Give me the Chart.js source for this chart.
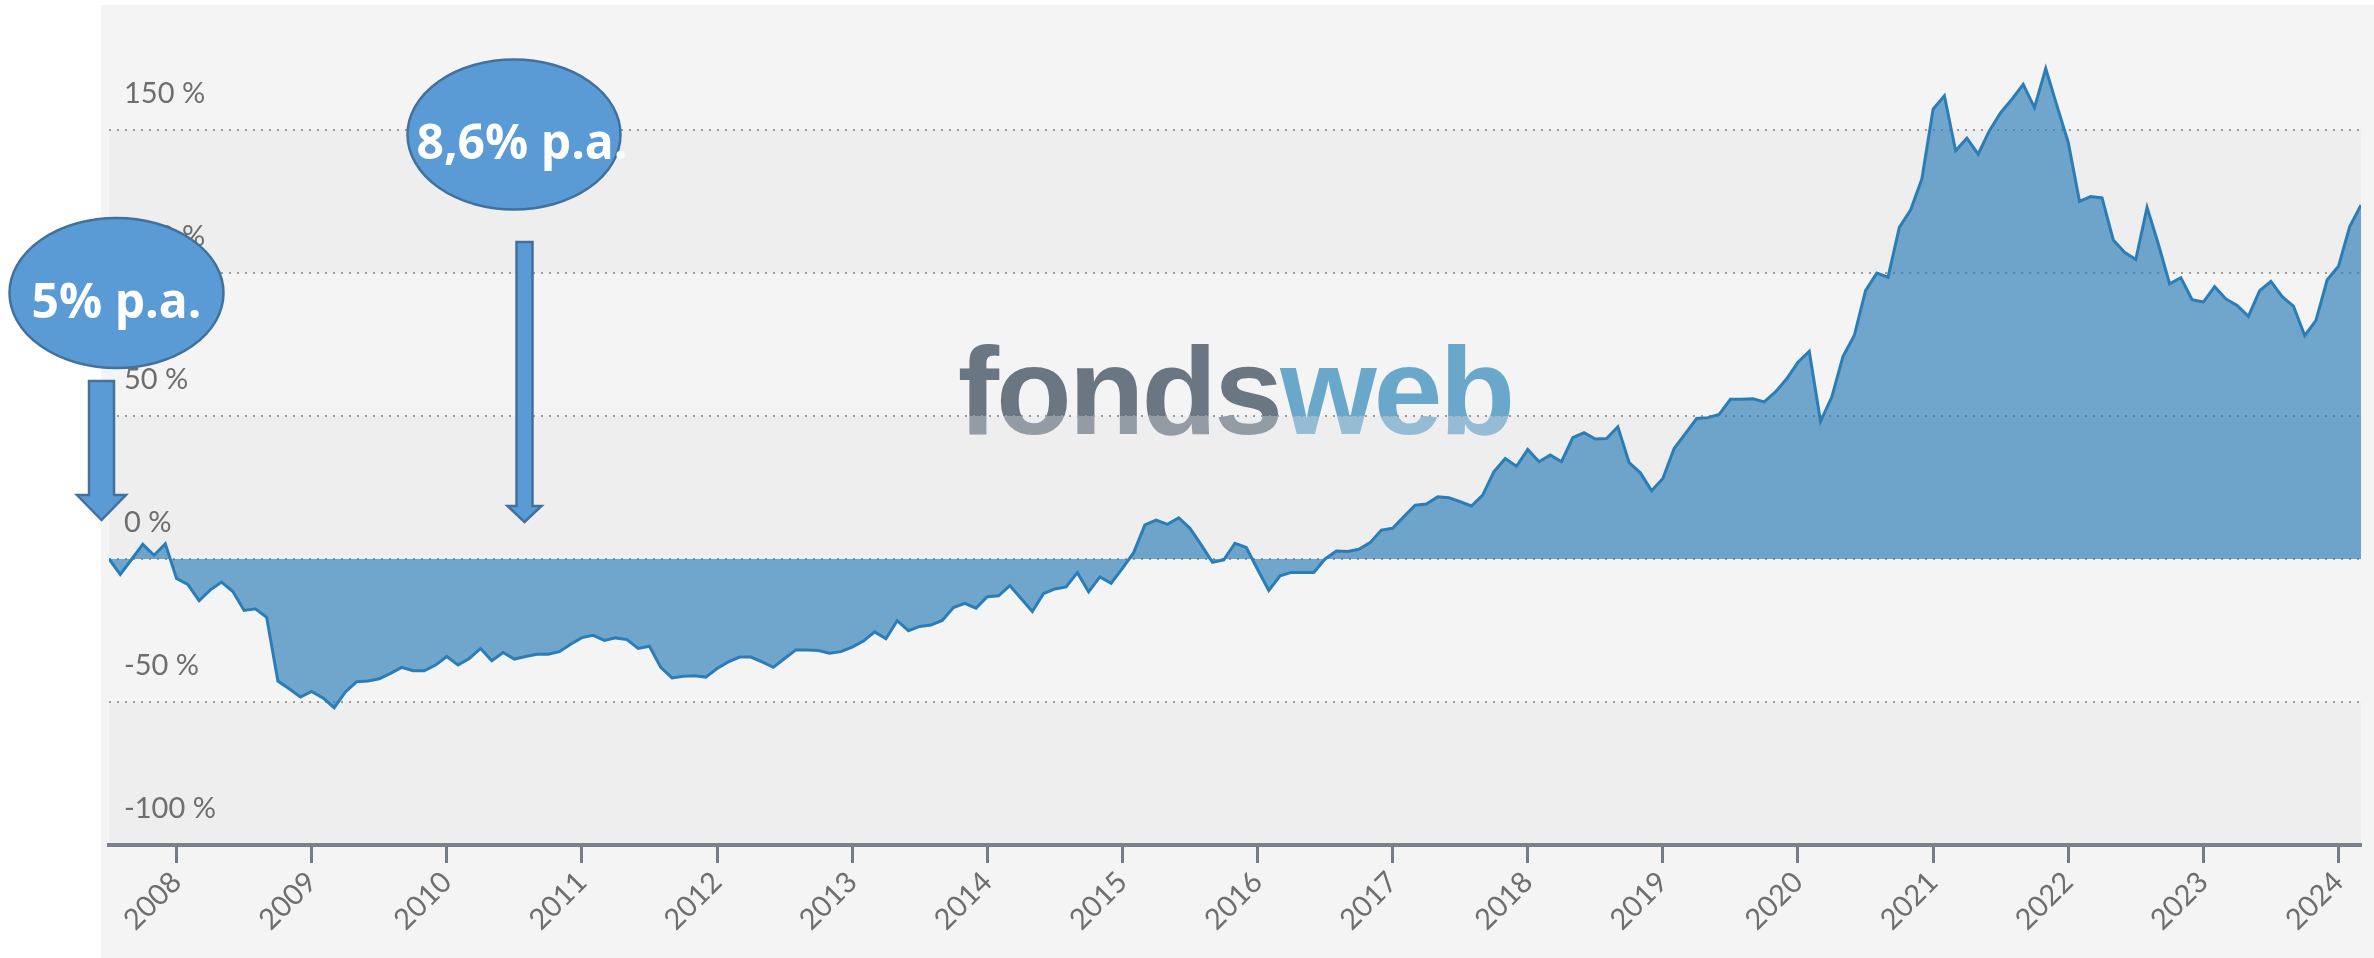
<!DOCTYPE html>
<html>
<head>
<meta charset="utf-8">
<title>Fondsweb Wertentwicklung</title>
<script src="https://cdn.jsdelivr.net/npm/chart.js@4.4.1/dist/chart.umd.min.js"></script>
<style>
  html, body { margin: 0; padding: 0; background: #ffffff; }
  canvas { display: block; }
</style>
</head>
<body>
<canvas id="perf" width="2374" height="958"></canvas>
<script>
// monthly performance in %, first point July 2007, last point March 2024
const startYear = 2007;
const startMonth = 7;
const performance = [
  0, -5.4, -0.2, 5.1, 1.3, 5.3, -6.8, -8.9, -14.6, -10.8, -8.1, -11.4,
  -18.0, -17.4, -20.4, -42.7, -45.4, -48.3, -46.3, -48.6, -52.0, -46.5, -42.9, -42.7,
  -41.9, -40.0, -37.9, -39.1, -39.1, -37.1, -34.1, -37.1, -34.8, -31.3, -35.6, -32.7,
  -35.0, -34.1, -33.3, -33.3, -32.4, -29.8, -27.5, -26.7, -28.5, -27.6, -28.2, -31.3,
  -30.5, -37.9, -41.6, -41.0, -40.8, -41.3, -38.3, -36.0, -34.3, -34.3, -36.0, -37.9,
  -34.8, -31.8, -31.8, -32.0, -33.0, -32.4, -30.8, -28.7, -25.5, -27.9, -21.6, -25.1,
  -23.6, -23.1, -21.5, -17.0, -15.5, -17.2, -13.2, -12.9, -9.3, -13.8, -18.4, -12.1,
  -10.5, -9.8, -4.8, -11.5, -6.3, -8.5, -3.3, 2.2, 11.9, 13.6, 12.1, 14.4,
  10.7, 4.9, -1.2, -0.3, 5.5, 4.0, -3.6, -11.0, -5.9, -4.7, -4.7, -4.7,
  0, 2.8, 2.6, 3.4, 5.7, 10.1, 10.7, 14.8, 18.8, 19.2, 21.7, 21.4,
  20.0, 18.5, 22.3, 30.5, 35.1, 32.4, 38.3, 34.0, 36.3, 34.0, 42.4, 44.1,
  41.9, 42.1, 46.2, 33.7, 30.1, 23.8, 28.1, 38.6, 43.8, 49.1, 49.4, 50.5,
  55.8, 55.8, 56.0, 54.9, 58.4, 63.0, 68.8, 72.6, 48.1, 56.6, 70.8, 78.1,
  93.8, 99.9, 98.5, 115.9, 122.0, 132.8, 157.2, 161.9, 142.7, 147.1, 141.5, 149.7,
  156.0, 160.7, 165.9, 157.8, 171.4, 158.4, 145.6, 125.0, 126.7, 126.2, 111.5, 107.2,
  104.7, 122.9, 110.1, 96.2, 98.3, 90.6, 89.8, 95.2, 90.9, 88.6, 84.8, 93.8,
  97.0, 91.7, 88.4, 78.1, 83.4, 97.6, 102.3, 116.2, 123.7
];
const yearTicks = [2008, 2009, 2010, 2011, 2012, 2013, 2014, 2015, 2016, 2017, 2018, 2019, 2020, 2021, 2022, 2023, 2024];
const percentTicks = [-100, -50, 0, 50, 100, 150];
const shadedBands = [[100, 150], [0, 50], [-100, -50]];
const watermarkParts = ['fonds', 'web'];
const calloutLabels = ['5% p.a.', '8,6% p.a.'];

const points = performance.map((v, i) => ({ x: startYear + (startMonth - 1 + i) / 12, y: v }));

const labelFont = { family: 'Lato', size: 29 };
const labelColor = '#6e6e6e';

// panel, alternating bands and the watermark, all under the grid
const backdrop = {
  id: 'backdrop',
  beforeDraw(chart) {
    const { ctx, chartArea: a, scales: { y } } = chart;
    ctx.save();
    ctx.fillStyle = '#f4f4f4';
    ctx.fillRect(101, 5, chart.width - 101, chart.height - 5);
    ctx.fillStyle = '#eeeeee';
    shadedBands.forEach(([lo, hi]) => {
      const top = y.getPixelForValue(hi), bottom = y.getPixelForValue(lo);
      ctx.fillRect(a.left, top, a.right - a.left, bottom - top);
    });

    ctx.font = 'bold 124px "Liberation Sans", Arial, sans-serif';
    ctx.letterSpacing = '-3px';
    ctx.textBaseline = 'alphabetic';
    ctx.textAlign = 'left';
    const w1 = ctx.measureText(watermarkParts[0]).width;
    const w2 = ctx.measureText(watermarkParts[1]).width;
    const left = (a.left + a.right) / 2 - (w1 + w2) / 2;
    const split = y.getPixelForValue(50);
    const base = split + 18;
    const drawMark = (c1, c2) => {
      ctx.fillStyle = c1;
      ctx.fillText(watermarkParts[0], left, base);
      ctx.fillStyle = c2;
      ctx.fillText(watermarkParts[1], left + w1, base);
    };
    ctx.save();
    ctx.beginPath();
    ctx.rect(0, 0, chart.width, split);
    ctx.clip();
    drawMark('#6b7683', '#6aa8cb');
    ctx.restore();
    ctx.save();
    ctx.beginPath();
    ctx.rect(0, split, chart.width, chart.height - split);
    ctx.clip();
    drawMark('#939ba5', '#95bcd4');
    ctx.restore();
    ctx.restore();
  }
};

function drawArrow(ctx, cx, top, shaftW, headTop, headW, tip) {
  ctx.beginPath();
  ctx.moveTo(cx - shaftW / 2, top);
  ctx.lineTo(cx + shaftW / 2, top);
  ctx.lineTo(cx + shaftW / 2, headTop);
  ctx.lineTo(cx + headW / 2, headTop);
  ctx.lineTo(cx, tip);
  ctx.lineTo(cx - headW / 2, headTop);
  ctx.lineTo(cx - shaftW / 2, headTop);
  ctx.closePath();
  ctx.fill();
  ctx.stroke();
}

function drawBubble(ctx, cx, cy, rx, ry, text, tx, baseline) {
  ctx.beginPath();
  ctx.ellipse(cx, cy, rx, ry, 0, 0, Math.PI * 2);
  ctx.fillStyle = '#5b9bd5';
  ctx.fill();
  ctx.stroke();
  ctx.fillStyle = '#ffffff';
  ctx.font = 'bold 48px "Open Sans", sans-serif';
  ctx.textAlign = 'center';
  ctx.textBaseline = 'alphabetic';
  ctx.fillText(text, tx, baseline);
}

// the two hand-drawn callouts on top of everything
const callouts = {
  id: 'callouts',
  afterDraw(chart) {
    const ctx = chart.ctx;
    ctx.save();
    ctx.strokeStyle = '#41719c';
    ctx.lineWidth = 2.5;
    ctx.fillStyle = '#5b9bd5';
    drawArrow(ctx, 101.5, 381, 25, 495, 49, 520);
    ctx.fillStyle = '#5b9bd5';
    drawArrow(ctx, 524.5, 242, 16, 506, 34, 522);
    drawBubble(ctx, 116.5, 293, 107, 75, calloutLabels[0], 116.5, 318);
    drawBubble(ctx, 514, 134.5, 106.5, 75, calloutLabels[1], 522, 159);
    ctx.restore();
  }
};

new Chart(document.getElementById('perf'), {
  type: 'line',
  data: {
    datasets: [{
      data: points,
      borderColor: '#2b7db7',
      backgroundColor: 'rgba(43, 125, 183, 0.65)',
      borderWidth: 3,
      fill: 'origin',
      pointRadius: 0,
      tension: 0
    }]
  },
  options: {
    responsive: false,
    animation: false,
    devicePixelRatio: 1,
    layout: { padding: { left: 109, right: 13, top: 4, bottom: 0 } },
    plugins: { legend: { display: false }, tooltip: { enabled: false } },
    scales: {
      x: {
        type: 'linear',
        min: points[0].x,
        max: points[points.length - 1].x,
        afterBuildTicks: s => { s.ticks = yearTicks.map(v => ({ value: v })); },
        afterFit: s => { s.height = 113; s.paddingLeft = 0; s.paddingRight = 0; },
        ticks: {
          callback: v => String(v),
          minRotation: 45,
          maxRotation: 45,
          autoSkip: false,
          padding: 2,
          color: labelColor,
          font: labelFont
        },
        grid: { drawOnChartArea: false, tickLength: 18, tickWidth: 3, tickColor: '#767c86' },
        border: { display: true, color: '#7b818b', width: 4 }
      },
      y: {
        min: -100,
        max: 194,
        afterBuildTicks: s => { s.ticks = percentTicks.map(v => ({ value: v })); },
        afterFit: s => { s.width = 0; s.paddingTop = 0; s.paddingBottom = 0; },
        ticks: {
          mirror: true,
          padding: 15,
          labelOffset: -36,
          callback: v => v + ' %',
          color: labelColor,
          font: labelFont
        },
        grid: { color: '#9c9c9c', lineWidth: 2, drawTicks: false },
        border: { display: false, dash: [2, 6] }
      }
    }
  },
  plugins: [backdrop, callouts]
});
</script>
</body>
</html>
